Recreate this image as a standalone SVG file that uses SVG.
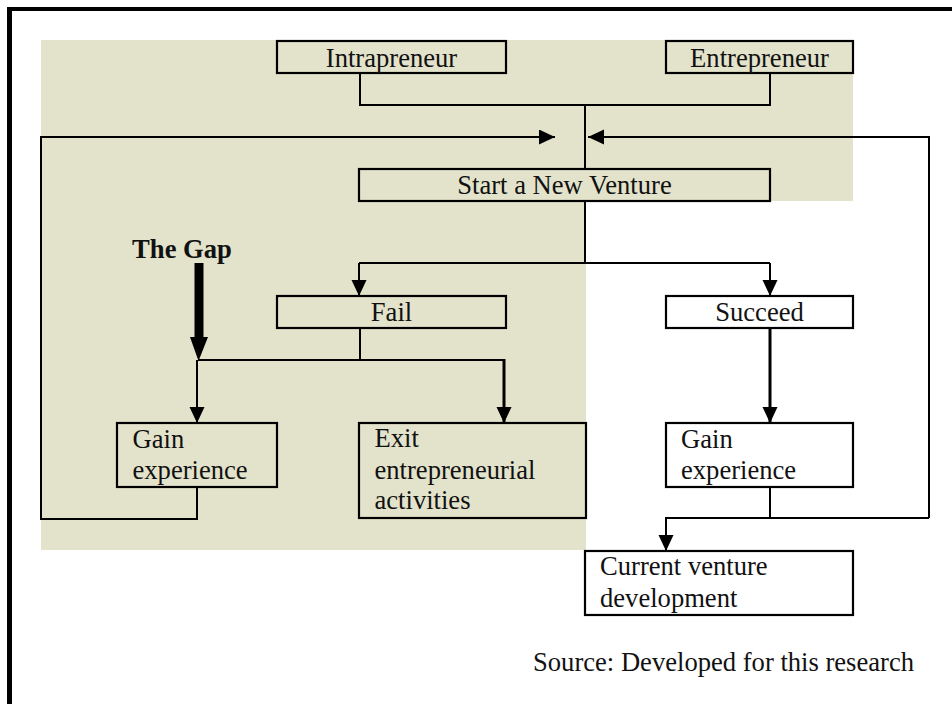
<svg xmlns="http://www.w3.org/2000/svg" width="952" height="704" viewBox="0 0 952 704">
  <defs>
    <style>
      .box { fill: none; stroke: #000; stroke-width: 2.2; }
      .wbox { fill: #fff; stroke: #000; stroke-width: 2.2; }
      .ln { fill: none; stroke: #000; stroke-width: 2; }
      .ln3 { fill: none; stroke: #000; stroke-width: 3; }
      .t { font-family: "Liberation Serif", "Times New Roman", serif; font-size: 26.6px; fill: #111; }
      .c { text-anchor: middle; }
      .b { font-weight: bold; }
    </style>
    <marker id="arr" markerUnits="userSpaceOnUse" markerWidth="17" markerHeight="16" refX="16" refY="7.5" orient="auto">
      <path d="M0,0 L16,7.5 L0,15 z" fill="#000"/>
    </marker>
  </defs>

  <!-- page frame -->
  <rect x="7" y="7" width="945" height="4" fill="#000"/>
  <rect x="7" y="7" width="5" height="697" fill="#000"/>

  <!-- shaded region -->
  <path d="M41,40 H853 V201 H586 V550 H41 Z" fill="#E3E3CB"/>

  <g id="connectors">
    <!-- sources merge -->
    <path class="ln" d="M360,73 V105 H770 V73"/>
    <path class="ln" d="M585,105 V169"/>
    <!-- feedback loops -->
    <path class="ln" d="M197,487 V519 H41 V137 H555" marker-end="url(#arr)"/>
    <path class="ln" d="M929,518 V137 H588" marker-end="url(#arr)"/>
    <!-- outcome split -->
    <path class="ln" d="M585,201 V263"/>
    <path class="ln" d="M359,263 H770"/>
    <path class="ln" d="M359,263 V296" marker-end="url(#arr)"/>
    <path class="ln" d="M770,263 V296" marker-end="url(#arr)"/>
    <!-- fail branch -->
    <path class="ln" d="M360,328 V360"/>
    <path class="ln" d="M198,360 H504"/>
    <path class="ln3" d="M504,359 V423" marker-end="url(#arr)"/>
    <path class="ln" d="M197,360 V423" marker-end="url(#arr)"/>
    <!-- succeed branch -->
    <path class="ln3" d="M770,328 V423" marker-end="url(#arr)"/>
    <path class="ln" d="M770,487 V518"/>
    <path class="ln" d="M929,518 H666 V551" marker-end="url(#arr)"/>
    <!-- the gap pointer -->
    <rect x="194.5" y="263" width="9" height="76" fill="#000"/>
    <path d="M190,337 L208,337 L198.5,361 Z" fill="#000"/>
  </g>

  <g id="intrapreneur">
    <rect class="box" x="277" y="41" width="229" height="32"/>
    <text class="t c" x="391.5" y="66.5">Intrapreneur</text>
  </g>
  <g id="entrepreneur">
    <rect class="box" x="666" y="41" width="187" height="32"/>
    <text class="t c" x="759.5" y="66.5">Entrepreneur</text>
  </g>
  <g id="start">
    <rect class="box" x="359" y="169" width="411" height="32"/>
    <text class="t c" x="564.5" y="194">Start a New Venture</text>
  </g>
  <g id="gap-label">
    <text class="t c b" x="182" y="257.5">The Gap</text>
  </g>
  <g id="fail">
    <rect class="box" x="277" y="296" width="229" height="32"/>
    <text class="t c" x="391.5" y="320.5">Fail</text>
  </g>
  <g id="succeed">
    <rect class="wbox" x="666" y="296" width="187" height="32"/>
    <text class="t c" x="759.5" y="320.5">Succeed</text>
  </g>
  <g id="gain-fail">
    <rect class="box" x="117" y="423" width="160" height="64"/>
    <text class="t" x="132.5" y="447.5">Gain</text>
    <text class="t" x="132.5" y="479">experience</text>
  </g>
  <g id="exit">
    <rect class="box" x="359" y="423" width="227" height="95"/>
    <text class="t" x="374.5" y="447">Exit</text>
    <text class="t" x="374.5" y="479">entrepreneurial</text>
    <text class="t" x="374.5" y="509">activities</text>
  </g>
  <g id="gain-succeed">
    <rect class="wbox" x="666" y="423" width="187" height="64"/>
    <text class="t" x="681" y="447.5">Gain</text>
    <text class="t" x="681" y="479">experience</text>
  </g>
  <g id="current">
    <rect class="wbox" x="585" y="551" width="268" height="64"/>
    <text class="t" x="600" y="575">Current venture</text>
    <text class="t" x="600" y="606.5">development</text>
  </g>
  <g id="source">
    <text class="t" x="533" y="670.5">Source: Developed for this research</text>
  </g>
</svg>
